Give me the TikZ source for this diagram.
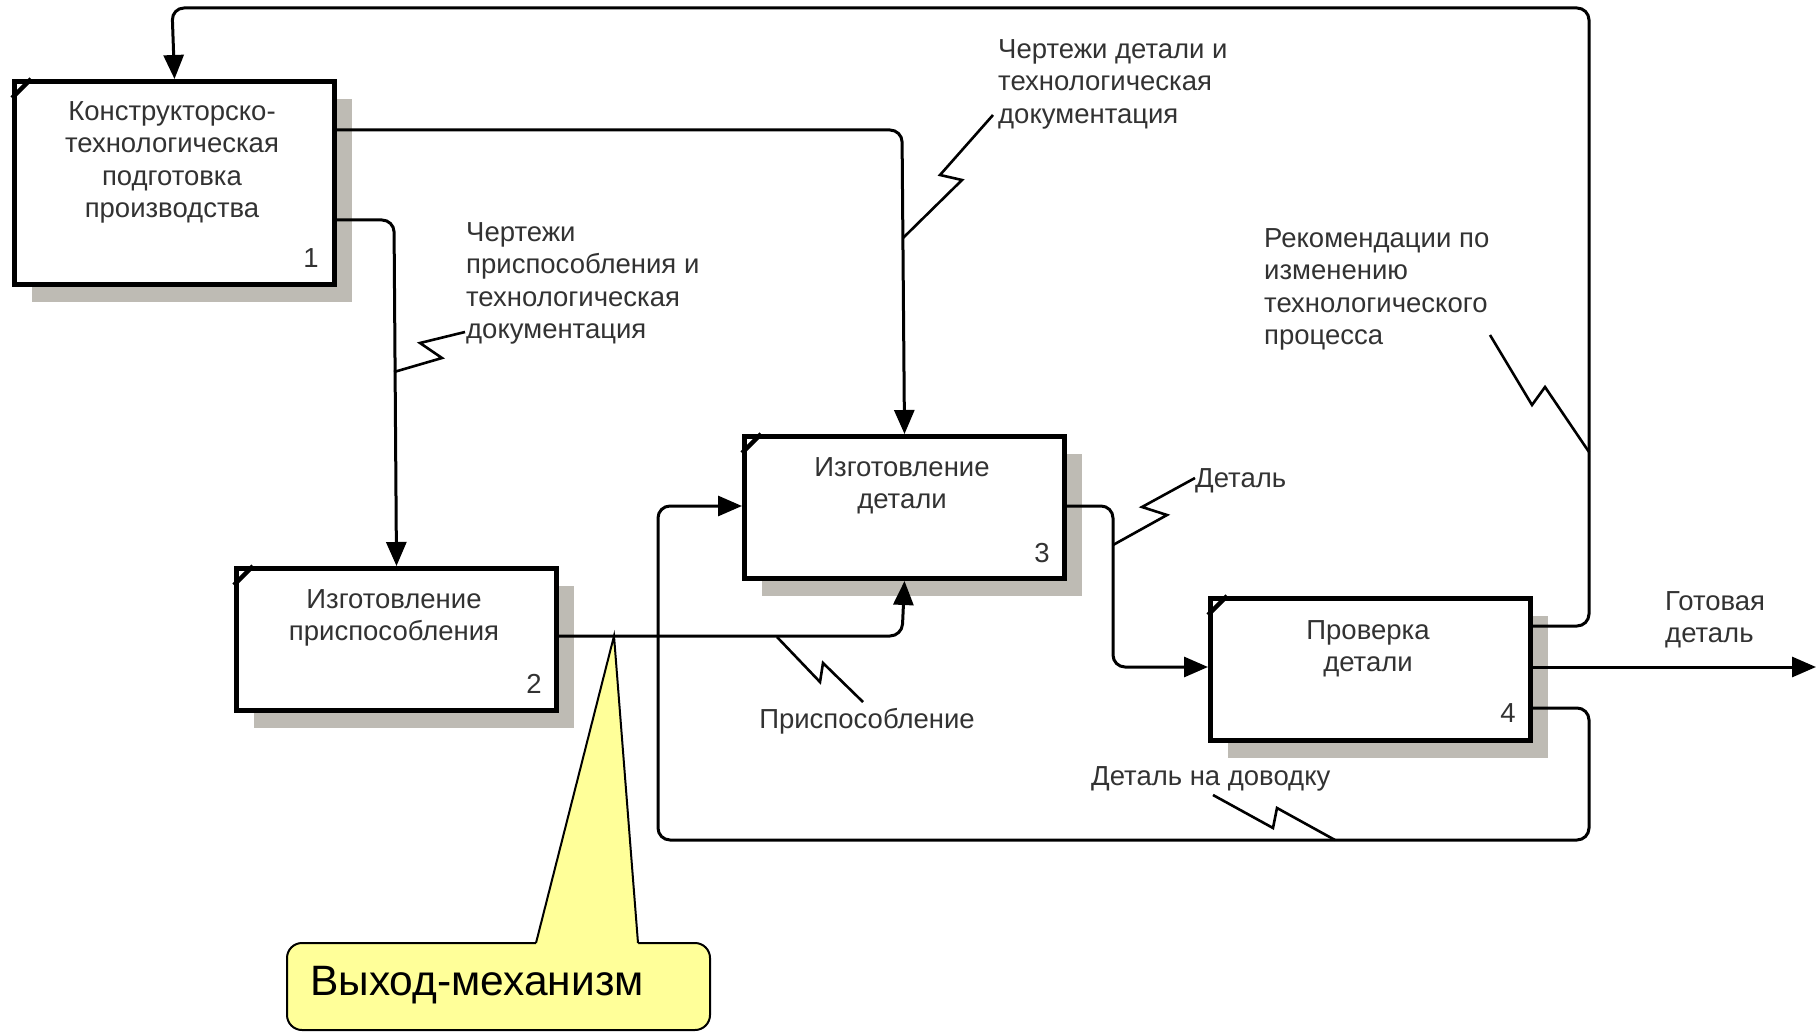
\documentclass[tikz,border=0pt]{standalone}
\usepackage{fontspec}
\setmainfont{Liberation Sans}
\usetikzlibrary{arrows.meta,calc}
\definecolor{shadowgray}{RGB}{190,187,180}
\definecolor{ink}{RGB}{50,50,50}
\definecolor{note}{RGB}{255,255,153}
\begin{document}
\begin{tikzpicture}[x=1pt,y=-1pt,
  func/.style={draw,line width=5pt,fill=white,anchor=north west,inner sep=0pt},
  conn/.style={line width=3pt,rounded corners=12pt},
  arr/.style={conn,-{Triangle[length=24pt,width=20pt]}},
  zig/.style={line width=2.6pt,line join=miter},
  txt/.style={text=ink,font=\fontsize{27.5}{32.5}\selectfont,inner sep=0pt},
  lbl/.style={txt,align=left,anchor=north west},
  ttl/.style={txt,align=center,anchor=north},
  num/.style={txt,anchor=center}
]
\useasboundingbox (0,0) rectangle (1819,1032);

% drop shadows of the function boxes
\foreach \x/\y/\w/\h in {12/79/320/203, 234/566/320/142, 742/434/320/142, 1208/596/320/142}
  \fill[shadowgray] (\x+20,\y+20) rectangle (\x+\w+20,\y+\h+20);

% function boxes
\node[func,minimum width=320pt,minimum height=203pt] (b1) at (12,79) {};
\node[func,minimum width=320pt,minimum height=142pt] (b2) at (234,566) {};
\node[func,minimum width=320pt,minimum height=142pt] (b3) at (742,434) {};
\node[func,minimum width=320pt,minimum height=142pt] (b4) at (1208,596) {};

% corner ticks
\foreach \b in {b1,b2,b3,b4}
  \draw[line width=4.5pt] ($(\b.north west)+(0,19)$) -- ($(\b.north west)+(19,0)$);

% box titles and numbers
\node[ttl] (t1) at (172,101) {Конструкторско-\\технологическая\\подготовка\\производства};
\node[ttl] (t2) at (394,589) {Изготовление\\приспособления};
\node[ttl] (t3) at (902,457) {Изготовление\\детали};
\node[ttl] (t4) at (1368,620) {Проверка\\детали};
\node[num] (n1) at (311,258) {1};
\node[num] (n2) at (534,684) {2};
\node[num] (n3) at (1042,553) {3};
\node[num] (n4) at (1508,713) {4};

% connectors
\coordinate (out) at (1816,667);
\draw[arr] (b4.east |- 0,626) -- (1589,626) -- (1589,8) -- (172,8) -- (b1.north);
\draw[arr] (b1.east |- 0,130) -- (902,130) -- (b3.north);
\draw[arr] (b1.east |- 0,220) -- (394,220) -- (b2.north);
\draw[arr] (b2.east |- 0,636) -- (902,636) -- (b3.south);
\draw[arr] (b3.east |- 0,506) -- (1113,506) -- (1113,667) -- (b4.west |- 0,667);
\draw[arr] (b4.east |- 0,667) -- (out);
\draw[arr] (b4.east |- 0,708) -- (1589,708) -- (1589,840) -- (658,840) -- (658,506) -- (b3.west |- 0,506);

% squiggles tying labels to arrows
\draw[zig] (394,372) -- (442,358) -- (420,343) -- (465,332);
\draw[zig] (903,238) -- (962,180) -- (940,175) -- (993,115);
\draw[zig] (1589,452) -- (1545,387) -- (1532,405) -- (1490,335);
\draw[zig] (1113,545) -- (1167,515) -- (1142,507) -- (1195,478);
\draw[zig] (777,637) -- (820,682) -- (823,663) -- (863,702);
\draw[zig] (1335,840) -- (1277,808) -- (1273,828) -- (1213,795);

% arrow labels
\node[lbl] (l1) at (466,222) {Чертежи\\приспособления и\\технологическая\\документация};
\node[lbl] (l2) at (998,39) {Чертежи детали и\\технологическая\\документация};
\node[lbl] (l3) at (1264,228) {Рекомендации по\\изменению\\технологического\\процесса};
\node[lbl] (l4) at (1195,468) {Деталь};
\node[txt,anchor=center] (l5) at (867,721) {Приспособление};
\node[lbl] (l6) at (1665,591) {Готовая\\деталь};
\node[lbl] (l7) at (1091,766) {Деталь на доводку};

% callout
\draw[fill=note,line width=2pt,rounded corners=15pt] (287,943) rectangle (710,1030);
\fill[note] (536,946) -- (536,943) -- (614,636) -- (638,943) -- (638,946) -- cycle;
\draw[line width=2pt,line join=miter] (536,943) -- (614,636) -- (638,943);
\node[font=\fontsize{42.5}{48}\selectfont,inner sep=0pt] (co) at (477,985) {Выход-механизм};
\end{tikzpicture}
\end{document}
